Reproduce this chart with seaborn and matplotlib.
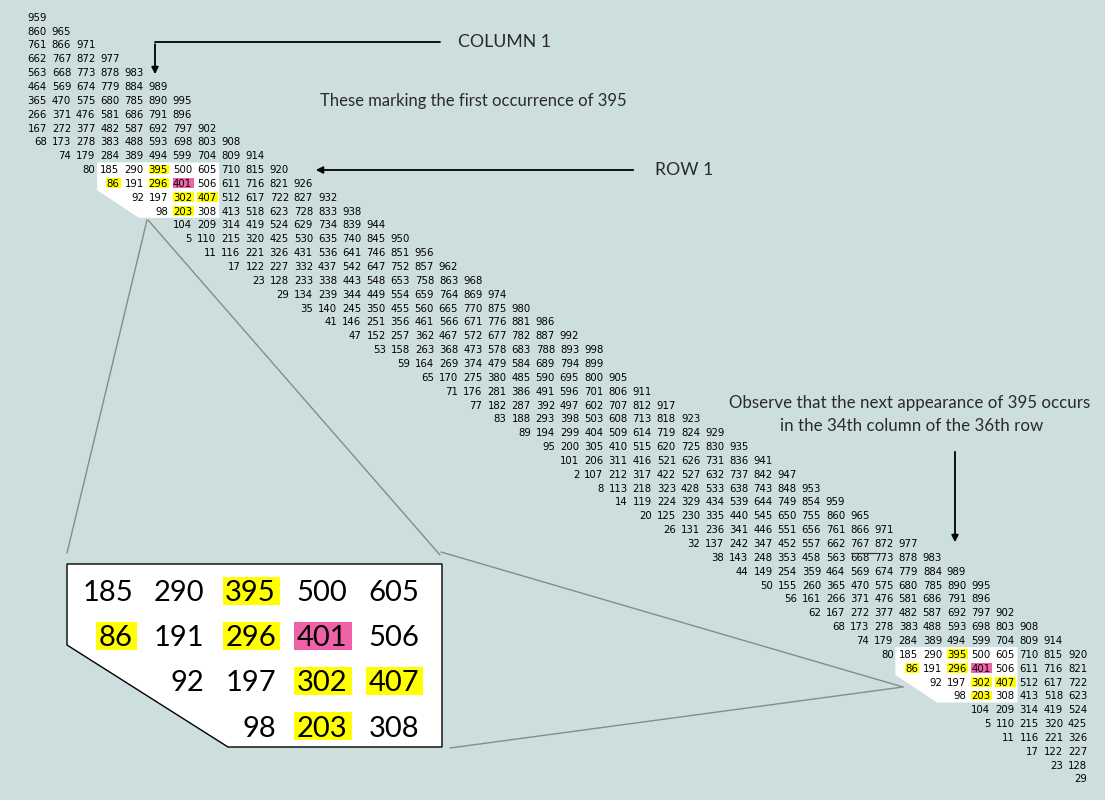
import matplotlib
matplotlib.use("Agg")
import matplotlib.pyplot as plt
from matplotlib.patches import Polygon, Rectangle
import pandas as pd
import seaborn as sns

rows = [
    "959",
    "860 965",
    "761 866 971",
    "662 767 872 977",
    "563 668 773 878 983",
    "464 569 674 779 884 989",
    "365 470 575 680 785 890 995",
    "266 371 476 581 686 791 896",
    "167 272 377 482 587 692 797 902",
    "68 173 278 383 488 593 698 803 908",
    "74 179 284 389 494 599 704 809 914",
    "80 185 290 395 500 605 710 815 920",
    "86 191 296 401 506 611 716 821 926",
    "92 197 302 407 512 617 722 827 932",
    "98 203 308 413 518 623 728 833 938",
    "104 209 314 419 524 629 734 839 944",
    "5 110 215 320 425 530 635 740 845 950",
    "11 116 221 326 431 536 641 746 851 956",
    "17 122 227 332 437 542 647 752 857 962",
    "23 128 233 338 443 548 653 758 863 968",
    "29 134 239 344 449 554 659 764 869 974",
    "35 140 245 350 455 560 665 770 875 980",
    "41 146 251 356 461 566 671 776 881 986",
    "47 152 257 362 467 572 677 782 887 992",
    "53 158 263 368 473 578 683 788 893 998",
    "59 164 269 374 479 584 689 794 899",
    "65 170 275 380 485 590 695 800 905",
    "71 176 281 386 491 596 701 806 911",
    "77 182 287 392 497 602 707 812 917",
    "83 188 293 398 503 608 713 818 923",
    "89 194 299 404 509 614 719 824 929",
    "95 200 305 410 515 620 725 830 935",
    "101 206 311 416 521 626 731 836 941",
    "2 107 212 317 422 527 632 737 842 947",
    "8 113 218 323 428 533 638 743 848 953",
    "14 119 224 329 434 539 644 749 854 959",
    "20 125 230 335 440 545 650 755 860 965",
    "26 131 236 341 446 551 656 761 866 971",
    "32 137 242 347 452 557 662 767 872 977",
    "38 143 248 353 458 563 668 773 878 983",
    "44 149 254 359 464 569 674 779 884 989",
    "50 155 260 365 470 575 680 785 890 995",
    "56 161 266 371 476 581 686 791 896",
    "62 167 272 377 482 587 692 797 902",
    "68 173 278 383 488 593 698 803 908",
    "74 179 284 389 494 599 704 809 914",
    "80 185 290 395 500 605 710 815 920",
    "86 191 296 401 506 611 716 821",
    "92 197 302 407 512 617 722",
    "98 203 308 413 518 623",
    "104 209 314 419 524",
    "5 110 215 320 425",
    "11 116 221 326",
    "17 122 227",
    "23 128",
    "29",
]
first_col = [0, 0, 0, 0, 0, 0, 0, 0, 0, 0, 1, 2, 3, 4, 5, 6, 6, 7, 8, 9,
             10, 11, 12, 13, 14, 15, 16, 17, 18, 19, 20, 21, 22, 22, 23, 24, 25, 26, 27, 28,
             29, 30, 31, 32, 33, 34, 35, 36, 37, 38, 39, 39, 40, 41, 42, 43]

yellow_vals = [395, 86, 296, 302, 407, 203]
pink_vals = [401]
block_rows = [11, 46]      # first row of the two marked blocks
inset_rows = [11, 12, 13, 14]
inset_cols = [3, 4, 5, 6, 7]

BG = "#cddede"
YELLOW = "#ffff00"
PINK = "#f062a8"

cells = []
for r, (line, c0) in enumerate(zip(rows, first_col)):
    for j, v in enumerate(line.split()):
        cells.append((r, c0 + j, int(v)))
df = pd.DataFrame(cells, columns=["row", "col", "value"])

sns.set_theme(style="white")
plt.rcParams["font.family"] = ["DejaVu Sans"]

fig = plt.figure(figsize=(11.05, 8.0), dpi=100)
fig.patch.set_facecolor(BG)

# main axes: x = spreadsheet column (right edge of cell), y = row
X0, DX, Y0, DY = 47.0, 24.19, 17.0, 13.85
ax = fig.add_axes([0, 0, 1, 1])
ax.set_facecolor(BG)
ax.set_xlim(-X0 / DX, (1105 - X0) / DX)
ax.set_ylim((800 - Y0) / DY, -Y0 / DY)
ax.axis("off")


def mark_shape(r0, c0):
    return [(c0 - 0.93, r0 - 0.5), (c0 + 4.12, r0 - 0.5), (c0 + 4.12, r0 + 3.5),
            (c0 + 0.8, r0 + 3.5), (c0 - 0.93, r0 + 1.5)]


for r0 in block_rows:
    c0 = df[df.row == r0].col.min() + 1
    ax.add_patch(Polygon(mark_shape(r0, c0), closed=True, fc="white", ec="none", zorder=1))

for _, cell in df.iterrows():
    r, c, v = int(cell.row), int(cell.col), int(cell.value)
    marked = any(b <= r < b + 4 for b in block_rows)
    if marked and (v in yellow_vals or v in pink_vals):
        w = (len(str(v)) * 6.3 + 2) / DX
        ax.add_patch(Rectangle((c + 1.5 / DX - w, r - 0.34), w, 0.68,
                               fc=PINK if v in pink_vals else YELLOW, ec="none", zorder=2))
    ax.text(c, r + 0.27, str(v), ha="right", va="baseline", fontsize=7.3,
            color="black", zorder=3)

# overlay in pixel coordinates for notes and the enlarged view
ov = fig.add_axes([0, 0, 1, 1])
ov.patch.set_alpha(0)

links = pd.DataFrame({
    "x": [147, 67, 148, 440, 903, 441, 903, 450],
    "y": [220, 553, 220, 555, 687, 552, 687, 748],
    "seg": [0, 0, 1, 1, 2, 2, 3, 3],
})
sns.lineplot(data=links, x="x", y="y", units="seg", estimator=None, sort=False,
             color="#8a8a8a", lw=1, ax=ov, legend=False)
ov.set_xlim(0, 1105)
ov.set_ylim(800, 0)
ov.axis("off")

ov.add_patch(Polygon([(67, 564), (442, 564), (442, 747), (228, 747), (67, 645)],
                     closed=True, fc="white", ec="black", lw=1, zorder=4))
for i, r in enumerate(inset_rows):
    sub = df[(df.row == r) & (df.col.isin(inset_cols))]
    for _, cell in sub.iterrows():
        j = int(cell.col) - inset_cols[0]
        v = int(cell.value)
        xr = 133 + 71.5 * j
        yc = 590.5 + 45.2 * i
        if v in yellow_vals or v in pink_vals:
            w = len(str(v)) * 16.8 + 7
            ov.add_patch(Rectangle((xr + 4 - w, yc - 14), w, 28,
                                   fc=PINK if v in pink_vals else YELLOW, ec="none", zorder=5))
        ov.text(xr, yc + 10.5, str(v), ha="right", va="baseline", fontsize=21,
                family="Lato", color="black", zorder=6)

note = dict(family="Lato", color="#2a2a2a")
ov.plot([155, 440], [42, 42], color="black", lw=1.3)
ov.annotate("", xy=(155, 77), xytext=(155, 41.4),
            arrowprops=dict(arrowstyle="-|>", color="black", lw=1.3, mutation_scale=10))
ov.text(458, 42, "COLUMN 1", ha="left", va="center", fontsize=12.7, **note)
ov.text(320, 101, "These marking the first occurrence of 395", ha="left", va="center",
        fontsize=12, **note)
ov.annotate("", xy=(313, 170), xytext=(636, 170),
            arrowprops=dict(arrowstyle="-|>", color="black", lw=1.3, mutation_scale=10))
ov.text(655, 170, "ROW 1", ha="left", va="center", fontsize=12.7, **note)
ov.text(910, 403, "Observe that the next appearance of 395 occurs", ha="center",
        va="center", fontsize=12.2, **note)
ov.text(912, 426, "in the 34th column of the 36th row", ha="center", va="center",
        fontsize=12.2, **note)
ov.annotate("", xy=(955, 545), xytext=(955, 449),
            arrowprops=dict(arrowstyle="-|>", color="black", lw=1.3, mutation_scale=10))
ov.plot([851, 876], [553, 553], color="#333333", lw=0.9)

fig.savefig("out.png", dpi=100, facecolor=BG)
